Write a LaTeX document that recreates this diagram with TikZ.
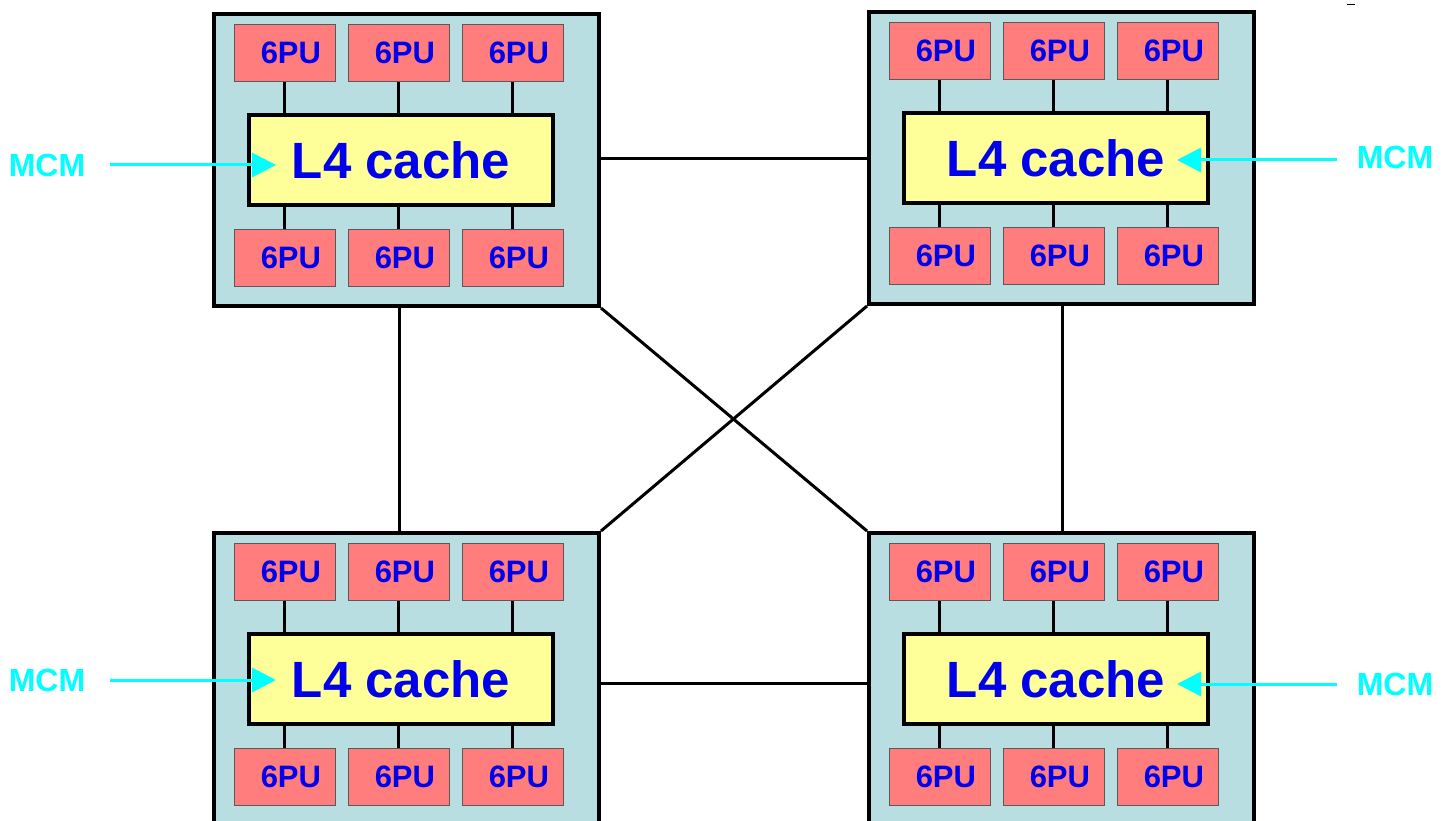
\documentclass[tikz,border=0pt]{standalone}
\usepackage{fontspec}
\setmainfont{Liberation Sans}
\usetikzlibrary{arrows.meta,calc}
\definecolor{mcmbg}{RGB}{185,222,225}
\definecolor{pufill}{RGB}{255,125,125}
\definecolor{cachefill}{RGB}{255,255,153}
\definecolor{txtblue}{RGB}{0,0,235}
\definecolor{mcmcyan}{RGB}{0,255,255}
\tikzset{
  mcmbox/.style={draw=black, fill=mcmbg, line width=4pt, minimum width=385pt, minimum height=292pt, inner sep=0pt, anchor=north west},
  pubox/.style={draw=black!65, fill=pufill, line width=0.8pt, minimum width=101pt, minimum height=57pt, inner sep=0pt, anchor=north west, text=txtblue, font=\fontsize{31}{31}\selectfont\bfseries},
  cachebox/.style={draw=black, fill=cachefill, line width=4pt, minimum width=304pt, minimum height=90pt, inner sep=0pt, anchor=north west, text=txtblue, font=\fontsize{51}{51}\selectfont\bfseries},
  link/.style={draw=black, line width=3pt},
  mcmlabel/.style={text=mcmcyan, font=\fontsize{32}{32}\selectfont\bfseries, inner ysep=2pt},
  mcmarrow/.style={draw=mcmcyan, line width=3pt, -{Triangle[length=24pt,width=24pt]}}
}
\newcommand\mcmunit[3]{%
  \node[mcmbox] (#1) at (#2,#3) {};
  \node[cachebox] (#1c) at (#2+35,#3+101) {L4 cache};
  \foreach \k/\off in {1/22,2/136,3/250}{%
    \node[pubox] (#1t\k) at (#2+\off,#3+12) {\hspace*{12pt}6PU};
    \node[pubox] (#1b\k) at (#2+\off,#3+217) {\hspace*{12pt}6PU};
    \draw[link] (#1t\k.south) -- (#1t\k.south |- #1c.north);
    \draw[link] (#1b\k.north) -- (#1b\k.north |- #1c.south);
  }%
}
\begin{document}
\begin{tikzpicture}[x=1pt,y=-1pt]
\useasboundingbox (0,0) rectangle (1453,821);
\fill[white] (0,0) rectangle (1453,821);
\clip (0,0) rectangle (1453,821);
\mcmunit{A}{212}{12}
\mcmunit{B}{867}{10}
\mcmunit{C}{212}{531}
\mcmunit{D}{867}{531}
% interconnect
\draw[link] (A.east |- 0,159) -- (B.west |- 0,159);
\draw[link] (C.east |- 0,683) -- (D.west |- 0,683);
\draw[link] (A.south -| 399,0) -- (C.north -| 399,0);
\draw[link] (B.south -| 1062,0) -- (D.north -| 1062,0);
\draw[link] (A.south east) -- (D.north west);
\draw[link] (B.south west) -- (C.north east);
% MCM labels
\node[mcmlabel, inner xsep=25pt] (LA) at (47,165) {MCM};
\node[mcmlabel, inner xsep=20pt] (LB) at (1395,157) {MCM};
\node[mcmlabel, inner xsep=25pt] (LC) at (47,680) {MCM};
\node[mcmlabel, inner xsep=20pt] (LD) at (1395,684) {MCM};
\coordinate (TA) at (276,165);
\coordinate (TB) at (1177,160);
\coordinate (TC) at (276,680);
\coordinate (TD) at (1177,684);
\draw[mcmarrow] (LA.east) -- (TA);
\draw[mcmarrow] (LB.west |- TB) -- (TB);
\draw[mcmarrow] (LC.east) -- (TC);
\draw[mcmarrow] (LD.west) -- (TD);
% small stray mark at top right
\draw[line width=1pt] (1347,4.5) -- (1355,4.5);
\end{tikzpicture}
\end{document}
